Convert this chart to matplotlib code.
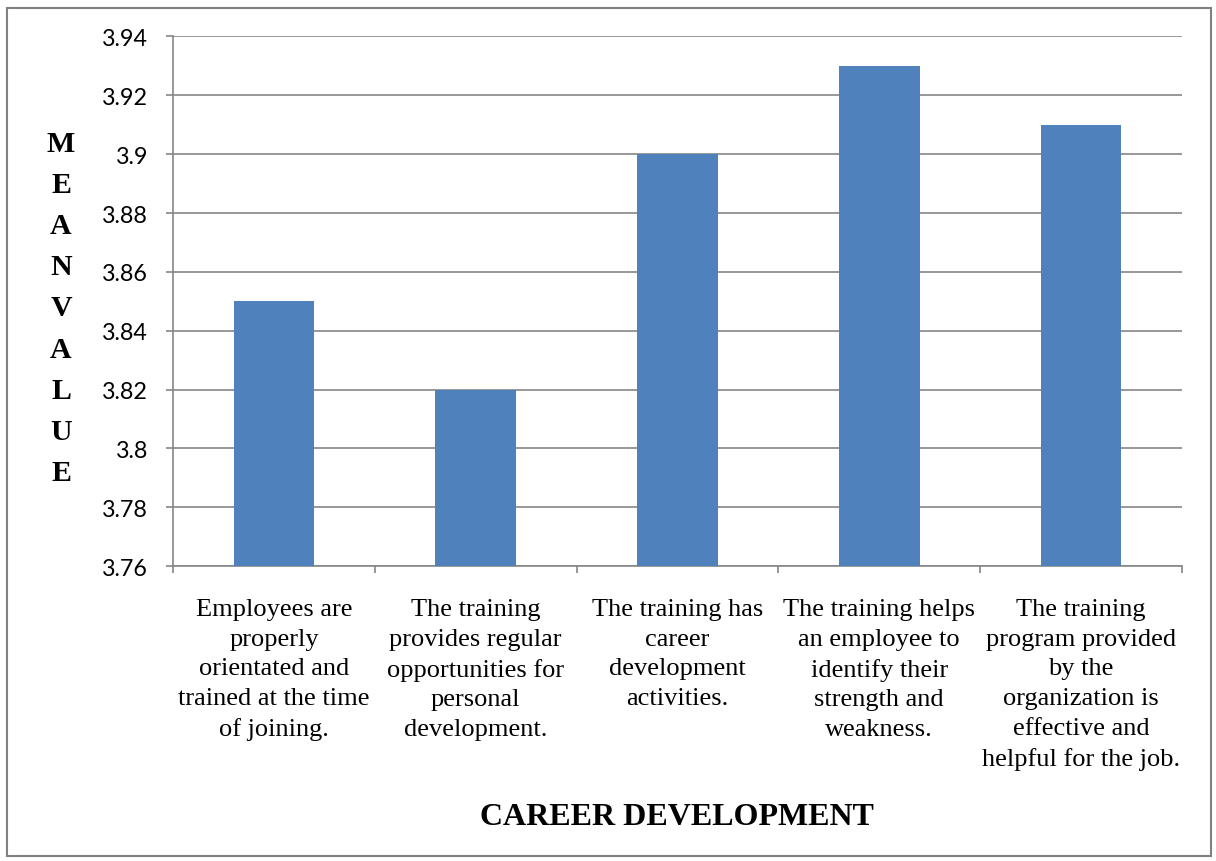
import matplotlib
matplotlib.use('Agg')
import matplotlib.pyplot as plt
from matplotlib.patches import Rectangle
import numpy as np

# --- Data ---
categories = [
    'Employees are\nproperly\norientated and\ntrained at the time\nof joining.',
    'The training\nprovides regular\nopportunities for\npersonal\ndevelopment.',
    'The training has\ncareer\ndevelopment\nactivities.',
    'The training helps\nan employee to\nidentify their\nstrength and\nweakness.',
    'The training\nprogram provided\nby the\norganization is\neffective and\nhelpful for the job.',
]
mean_values = [3.85, 3.82, 3.90, 3.93, 3.91]
y_ticks = [3.76, 3.78, 3.80, 3.82, 3.84, 3.86, 3.88, 3.90, 3.92, 3.94]
y_tick_labels = ['3.76', '3.78', '3.8', '3.82', '3.84', '3.86', '3.88', '3.9', '3.92', '3.94']

# --- Style ---
BAR = '#4F81BD'
GRID = '#868686'
SERIF = 'Liberation Serif'
SANS = 'Lato'

fig = plt.figure(figsize=(12.16, 8.62), dpi=100, facecolor='white')
ax = fig.add_axes([0.1423, 0.3422, 0.972 - 0.1423, 0.9565 - 0.3422])

x = np.arange(len(categories))
ax.bar(x, mean_values, width=0.4, color=BAR, zorder=3)

ax.set_xlim(-0.5, len(categories) - 0.5)
ax.set_ylim(y_ticks[0], y_ticks[-1])
ax.set_yticks(y_ticks)
ax.set_yticklabels(y_tick_labels, fontfamily=SANS, fontsize=16.8)
ax.yaxis.grid(True, color=GRID, linewidth=1.2, zorder=0)
ax.tick_params(axis='y', length=5, width=1.2, color=GRID, pad=13)

# category labels centred, boundary ticks as minor ticks
ax.set_xticks(x)
ax.set_xticklabels(categories, fontfamily=SERIF, fontsize=19, linespacing=1.45,
                   va='top')
ax.tick_params(axis='x', which='major', length=0, pad=23)
ax.set_xticks(np.arange(-0.5, len(categories)), minor=True)
ax.tick_params(axis='x', which='minor', length=5, width=1.2, color=GRID)

for side in ('top', 'right'):
    ax.spines[side].set_visible(False)
for side in ('left', 'bottom'):
    ax.spines[side].set_color(GRID)
    ax.spines[side].set_linewidth(1.2)

# stacked vertical axis title
fig.text(61 / 1216, 1 - 309 / 862, '\n'.join('MEANVALUE'), ha='center', va='center',
         fontfamily=SERIF, fontweight='bold', fontsize=21.5, linespacing=1.67)

fig.text(677 / 1216, 1 - 818 / 862, 'CAREER DEVELOPMENT', ha='center', va='center',
         fontfamily=SERIF, fontweight='bold', fontsize=23)

# chart frame
fig.patches.append(Rectangle((7 / 1216, 1 - 857 / 862), 1204 / 1216, 848 / 862,
                             transform=fig.transFigure, fill=False,
                             edgecolor='#808080', linewidth=1.5))

fig.savefig('out.png', dpi=100, facecolor='white')
